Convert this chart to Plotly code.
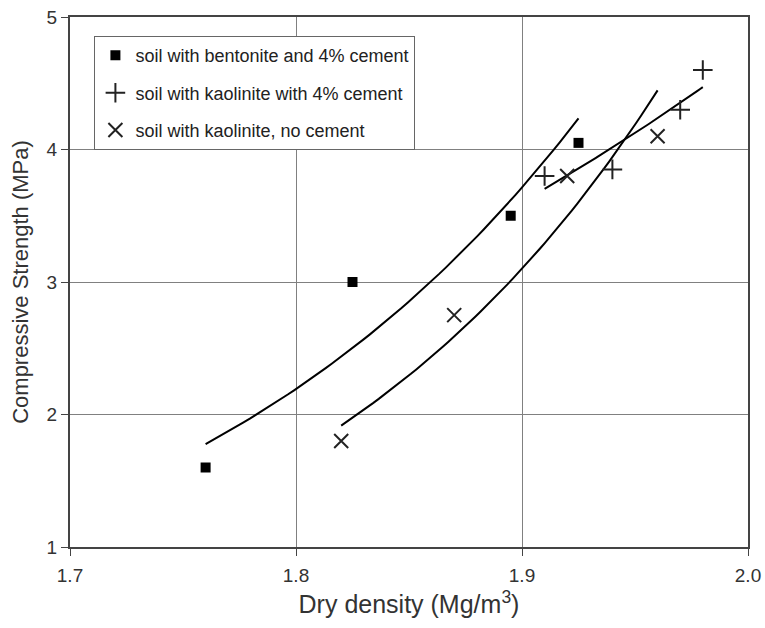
import numpy as np
import plotly.graph_objects as go

# Data
bent_x = [1.76, 1.825, 1.895, 1.925]
bent_y = [1.6, 3.0, 3.5, 4.05]
kaol_cem_x = [1.91, 1.94, 1.97, 1.98]
kaol_cem_y = [3.8, 3.85, 4.3, 4.6]
kaol_no_x = [1.82, 1.87, 1.92, 1.96]
kaol_no_y = [1.8, 2.75, 3.8, 4.1]

names = ["soil with bentonite and 4% cement",
         "soil with kaolinite with 4% cement",
         "soil with kaolinite, no cement"]
x_ticks = [1.7, 1.8, 1.9, 2.0]
y_ticks = [1, 2, 3, 4, 5]

FONT = "Liberation Sans, Arial, sans-serif"


def exp_trend(xs, ys, n=60):
    xs = np.asarray(xs, float)
    b, a = np.polyfit(xs, np.log(ys), 1)
    xx = np.linspace(xs.min(), xs.max(), n)
    return xx, np.exp(a + b * xx)


fig = go.Figure()
series = [
    (bent_x, bent_y, names[0], dict(symbol="square", size=10, color="black")),
    (kaol_cem_x, kaol_cem_y, names[1], dict(symbol="cross-thin", size=14, color="black",
                                             line=dict(width=2, color="#222"))),
    (kaol_no_x, kaol_no_y, names[2], dict(symbol="x-thin", size=14, color="black",
                                           line=dict(width=2, color="#222"))),
]
for i, (xs, ys, nm, mk) in enumerate(series):
    tx, ty = exp_trend(xs, ys)
    fig.add_trace(go.Scatter(x=tx, y=ty, mode="lines", line=dict(color="black", width=2),
                             showlegend=False, hoverinfo="skip"))
for i, (xs, ys, nm, mk) in enumerate(series):
    fig.add_trace(go.Scatter(x=xs, y=ys, mode="markers", name=nm, marker=mk,
                             legendgroup=f"g{i}"))

axis_common = dict(showline=True, linecolor="#444", linewidth=2, mirror=True,
                   showgrid=True, gridcolor="#808080", gridwidth=1,
                   ticks="outside", ticklen=7, tickcolor="#444",
                   tickfont=dict(family=FONT, size=19, color="#333"),
                   zeroline=False, ticklabeloverflow="allow", automargin=False)
fig.update_xaxes(range=[1.7, 2.0], tickvals=x_ticks, ticktext=[f"{v:.1f}" for v in x_ticks],
                 ticklabelstandoff=3,
                 title=dict(text="Dry density (Mg/m<sup>3</sup>)", standoff=11,
                            font=dict(family=FONT, size=25, color="#333")),
                 **axis_common)
fig.update_yaxes(range=[1, 5], tickvals=y_ticks,
                 title=dict(text="Compressive Strength (MPa)", standoff=12,
                            font=dict(family=FONT, size=22, color="#333")),
                 **axis_common)

fig.update_layout(
    width=765, height=628,
    margin=dict(l=70, r=17, t=17, b=81),
    paper_bgcolor="white", plot_bgcolor="white",
    font=dict(family=FONT, color="#333"),
    legend=dict(x=0.036, y=0.964, xanchor="left", yanchor="top",
                bgcolor="white", bordercolor="#666", borderwidth=1,
                font=dict(family=FONT, size=18, color="#222"),
                traceorder="grouped", tracegroupgap=11, itemwidth=30),
)

fig.write_html("out.html")
